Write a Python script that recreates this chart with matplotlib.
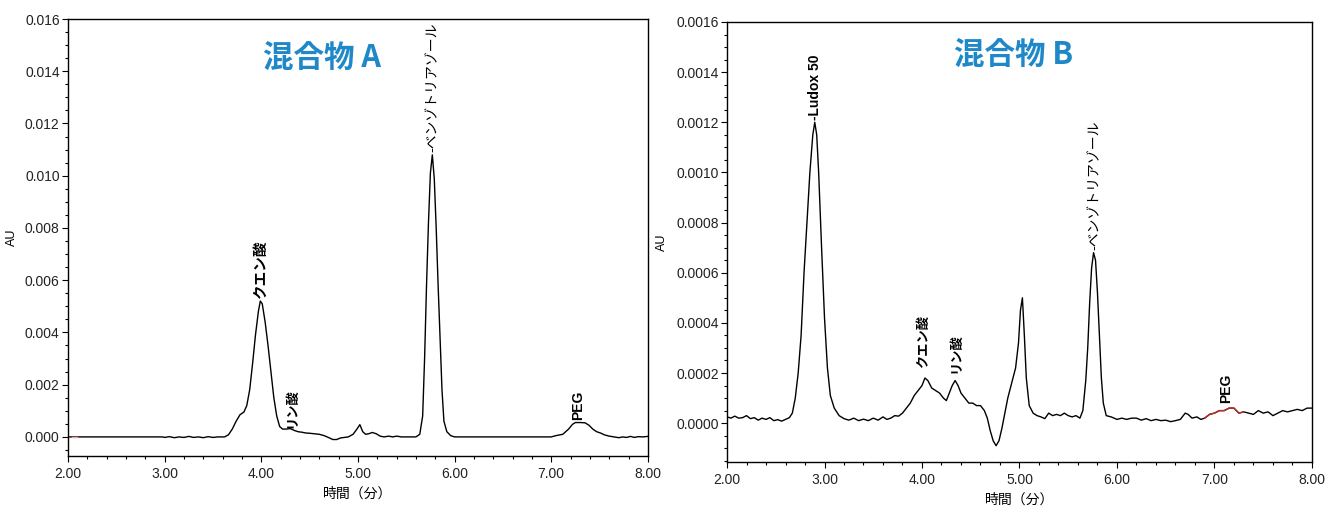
import matplotlib
matplotlib.use("Agg")
from matplotlib import pyplot as plt
from matplotlib import font_manager
from matplotlib.ticker import MultipleLocator, FormatStrFormatter

# chromatogram A (time in min, absorbance in AU)
a_time = [2.00, 2.98, 3.00, 3.05, 3.10, 3.15, 3.20, 3.25, 3.30, 3.35, 3.40, 3.45, 3.50, 3.55,
          3.62, 3.66, 3.70, 3.74, 3.78, 3.82, 3.85, 3.88, 3.91, 3.94, 3.97, 3.99, 4.01, 4.04,
          4.07, 4.10, 4.13, 4.16, 4.19, 4.22, 4.26, 4.30, 4.34, 4.38, 4.42, 4.46, 4.50, 4.55,
          4.60, 4.65, 4.70, 4.74, 4.78, 4.82, 4.86, 4.90, 4.95, 4.99, 5.02, 5.05, 5.08, 5.11,
          5.15, 5.19, 5.23, 5.27, 5.32, 5.36, 5.40, 5.45, 5.60, 5.64, 5.67, 5.69, 5.71, 5.73,
          5.75, 5.77, 5.79, 5.81, 5.83, 5.85, 5.87, 5.89, 5.92, 5.96, 6.00, 7.00, 7.05, 7.12,
          7.18, 7.22, 7.25, 7.30, 7.35, 7.39, 7.43, 7.47, 7.51, 7.55, 7.60, 7.65, 7.70, 7.74,
          7.78, 7.82, 7.86, 7.90, 7.95, 8.00]
a_au = [0.0, 0.0, -0.00002, 0.00001, -0.00003, 0.0, -0.00002, 0.00002, -0.00002, 0.0, -0.00003,
        0.00001, -0.00002, 0.0,
        0.0, 0.00008, 0.0003, 0.0006, 0.00085, 0.00095, 0.0012, 0.0018, 0.0028, 0.0039, 0.0048,
        0.0052, 0.0051, 0.0044,
        0.0035, 0.0025, 0.0015, 0.0008, 0.0004, 0.0003, 0.0003, 0.00032, 0.00025, 0.0002,
        0.00018, 0.00015, 0.00014, 0.00012,
        0.0001, 0.00005, -0.00003, -0.0001, -0.0001, -0.00004, -0.00002, 0.0, 0.0001, 0.0003,
        0.00047, 0.0002, 0.0001, 0.00012,
        0.00017, 0.00012, 0.00003, 0.0, 0.00003, 0.0, 0.00003, 0.0, 0.0, 0.0001, 0.0008, 0.003,
        0.0058, 0.0082,
        0.0101, 0.0108, 0.0099, 0.0080, 0.0058, 0.0038, 0.0018, 0.0006, 0.0002, 0.00005, 0.0,
        0.0, 0.00005, 0.0001,
        0.0003, 0.00048, 0.00055, 0.00055, 0.00054, 0.00045, 0.0003, 0.0002, 0.00015, 0.00008,
        0.00003, 0.0, -0.00003, 0.0,
        -0.00002, 0.00002, -0.00002, 0.00001, 0.0, 0.00002]
a_mark_time = [2.04, 2.09]
a_mark_au = [0.0, 0.0]

# chromatogram B
b_time = [2.00, 2.04, 2.08, 2.12, 2.16, 2.20, 2.24, 2.28, 2.32, 2.36, 2.40, 2.44, 2.48, 2.52,
          2.56, 2.60, 2.64, 2.67, 2.70, 2.73, 2.76, 2.79, 2.82, 2.85, 2.88, 2.90, 2.92, 2.94,
          2.97, 3.00, 3.03, 3.06, 3.10, 3.15, 3.20, 3.25, 3.30, 3.35, 3.40, 3.45, 3.50, 3.55,
          3.60, 3.64, 3.68, 3.72, 3.76, 3.80, 3.84, 3.88, 3.92, 3.96, 4.00, 4.03, 4.06, 4.10,
          4.14, 4.18, 4.22, 4.25, 4.28, 4.31, 4.34, 4.37, 4.40, 4.44, 4.48, 4.52, 4.56, 4.60,
          4.64, 4.67, 4.70, 4.73, 4.76, 4.79, 4.82, 4.85, 4.88, 4.92, 4.96, 4.99, 5.01, 5.03,
          5.05, 5.07, 5.10, 5.14, 5.18, 5.22, 5.26, 5.30, 5.34, 5.38, 5.42, 5.46, 5.50, 5.54,
          5.58, 5.62, 5.65, 5.68, 5.70, 5.72, 5.74, 5.76, 5.78, 5.80, 5.82, 5.84, 5.86, 5.89,
          5.94, 6.00, 6.05, 6.10, 6.15, 6.20, 6.25, 6.30, 6.35, 6.40, 6.45, 6.50, 6.55, 6.60,
          6.65, 6.70, 6.73, 6.77, 6.82, 6.86, 6.90, 6.95, 7.00, 7.05, 7.10, 7.15, 7.20, 7.25,
          7.30, 7.35, 7.40, 7.45, 7.50, 7.55, 7.60,
          7.65, 7.70, 7.75, 7.80, 7.85, 7.90, 7.95, 8.00]
b_au = [0.000025, 0.00002, 0.000028, 0.00002, 0.000022, 0.00003, 0.000018, 0.000022, 0.000012,
        0.00002, 0.000015, 0.000022, 0.00001, 0.000014,
        0.000008, 0.000015, 0.000022, 0.00004, 0.0001, 0.0002, 0.00035, 0.0006, 0.0008, 0.001,
        0.00115, 0.0012, 0.00115, 0.001,
        0.0007, 0.00042, 0.00022, 0.00011, 0.00006, 0.00003, 0.000018, 0.000012, 0.00002,
        0.00001, 0.000016, 0.00001, 0.00002, 0.000012,
        0.000025, 0.000015, 0.00002, 0.00003, 0.000028, 0.00004, 0.00006, 0.00008, 0.00011,
        0.00013, 0.00015, 0.00018, 0.00017, 0.00014,
        0.00013, 0.00012, 0.0001, 0.00009, 0.00012, 0.00015, 0.00017, 0.00015, 0.00012, 0.0001,
        0.00008, 0.00008, 0.00007, 0.00007,
        0.00005, 0.00002, -0.00003, -0.00007, -0.00009, -0.00007, -0.00002, 0.00004, 0.0001,
        0.00016, 0.00022, 0.00032, 0.00045, 0.0005,
        0.00035, 0.00018, 0.00007, 0.00004, 0.00003, 0.000025, 0.000018, 0.00004, 0.00003,
        0.000035, 0.00003, 0.00004, 0.00003, 0.000025,
        0.00003, 0.00002, 0.00005, 0.00017, 0.0003, 0.00048, 0.00062, 0.00068, 0.00065, 0.00052,
        0.00035, 0.00018, 0.00008, 0.00003,
        0.000025, 0.000015, 0.00002, 0.000015, 0.00002, 0.00002, 0.000012, 0.000018, 0.00001,
        0.000015, 0.00001, 0.000012, 0.000006, 0.00001,
        0.000015, 0.00004, 0.000035, 0.00002, 0.000025, 0.000015, 0.00002, 0.000035, 0.00004,
        0.00005, 0.00005, 0.00006, 0.00006, 0.00004,
        0.000045, 0.00004, 0.000035, 0.00005, 0.00004, 0.000045, 0.00003,
        0.00004, 0.00005, 0.000045, 0.00005, 0.000055, 0.00005, 0.00006, 0.00006]
# integrated PEG window, drawn in red
b_peg_window = (6.90, 7.30)

# peak labels: (text, time, au, size, weight)
a_labels = [("クエン酸", 4.00, 0.0053, 10.5, "bold"),
            ("リン酸", 4.32, 0.00035, 9.5, "bold"),
            ("-ベンゾトリアゾール", 5.77, 0.0109, 10, "normal"),
            ("PEG", 7.28, 0.00065, 10, "bold")]
b_labels = [("-Ludox 50", 2.90, 0.00121, 10, "bold"),
            ("クエン酸", 4.02, 0.00022, 9.5, "bold"),
            ("リン酸", 4.35, 0.0002, 9.5, "bold"),
            ("-ベンゾトリアゾール", 5.77, 0.00069, 10, "normal"),
            ("PEG", 7.12, 0.00008, 10, "bold")]

installed = {f.name for f in font_manager.fontManager.ttflist}
tick_font = "Liberation Sans Narrow" if "Liberation Sans Narrow" in installed else "Liberation Sans"
plt.rcParams["font.family"] = [tick_font, "Noto Sans CJK JP", "DejaVu Sans"]

title_color = "#1e88c8"
tick_color = "#222222"

fig = plt.figure(figsize=(13.33, 5.21), dpi=100)
ax_a = fig.add_axes([0.051, 0.1248, 0.435, 0.8387])
ax_b = fig.add_axes([0.5454, 0.1132, 0.4388, 0.8446])


def style_axes(ax, ylim, major, minor, fmt, label_x):
    ax.set_xlim(2.0, 8.0)
    ax.set_ylim(*ylim)
    ax.xaxis.set_major_locator(MultipleLocator(1.0))
    ax.xaxis.set_minor_locator(MultipleLocator(0.2))
    ax.yaxis.set_major_locator(MultipleLocator(major))
    ax.yaxis.set_minor_locator(MultipleLocator(minor))
    ax.xaxis.set_major_formatter(FormatStrFormatter("%.2f"))
    ax.yaxis.set_major_formatter(FormatStrFormatter(fmt))
    ax.tick_params(which="major", direction="out", length=4, width=0.8, pad=2, labelsize=10,
                   labelcolor=tick_color)
    ax.tick_params(axis="x", which="major", pad=4)
    ax.tick_params(which="minor", direction="out", length=2.5, width=0.8)
    for s in ax.spines.values():
        s.set_linewidth(1.0)
    ax.set_xlabel("時間（分）", fontsize=10, family=["Noto Sans CJK JP"], labelpad=4)
    ax.set_ylabel("AU", fontsize=9)
    ax.yaxis.set_label_coords(label_x, 0.5)


ax_a.plot(a_time, a_au, color="black", lw=1.0)
ax_a.plot(a_mark_time, a_mark_au, color="#f0a0a0", lw=1.0)
style_axes(ax_a, (-0.00073, 0.016), 0.002, 0.0005, "%.3f", -0.086)
ax_a.text(4.63, 0.0145, "混合物 A", color=title_color, fontsize=22, fontweight="bold",
          ha="center", va="center", family=["Noto Sans CJK JP", "DejaVu Sans"])
for txt, t, v, size, weight in a_labels:
    ax_a.text(t, v, txt, rotation=90, ha="center", va="bottom", fontsize=size,
              fontweight=weight, family=["Liberation Sans", "Noto Sans CJK JP"])

peg_t = [t for t in b_time if b_peg_window[0] <= t <= b_peg_window[1]]
peg_v = [v for t, v in zip(b_time, b_au) if b_peg_window[0] <= t <= b_peg_window[1]]
ax_b.plot(b_time, b_au, color="black", lw=1.0)
ax_b.plot(peg_t, peg_v, color="#c0302a", lw=1.0)
style_axes(ax_b, (-0.000155, 0.0016), 0.0002, 0.00005, "%.4f", -0.101)
ax_b.text(4.94, 0.00147, "混合物 B", color=title_color, fontsize=22, fontweight="bold",
          ha="center", va="center", family=["Noto Sans CJK JP", "DejaVu Sans"])
for txt, t, v, size, weight in b_labels:
    ax_b.text(t, v, txt, rotation=90, ha="center", va="bottom", fontsize=size,
              fontweight=weight, family=["Liberation Sans", "Noto Sans CJK JP"])

fig.savefig("out.png", dpi=100)
